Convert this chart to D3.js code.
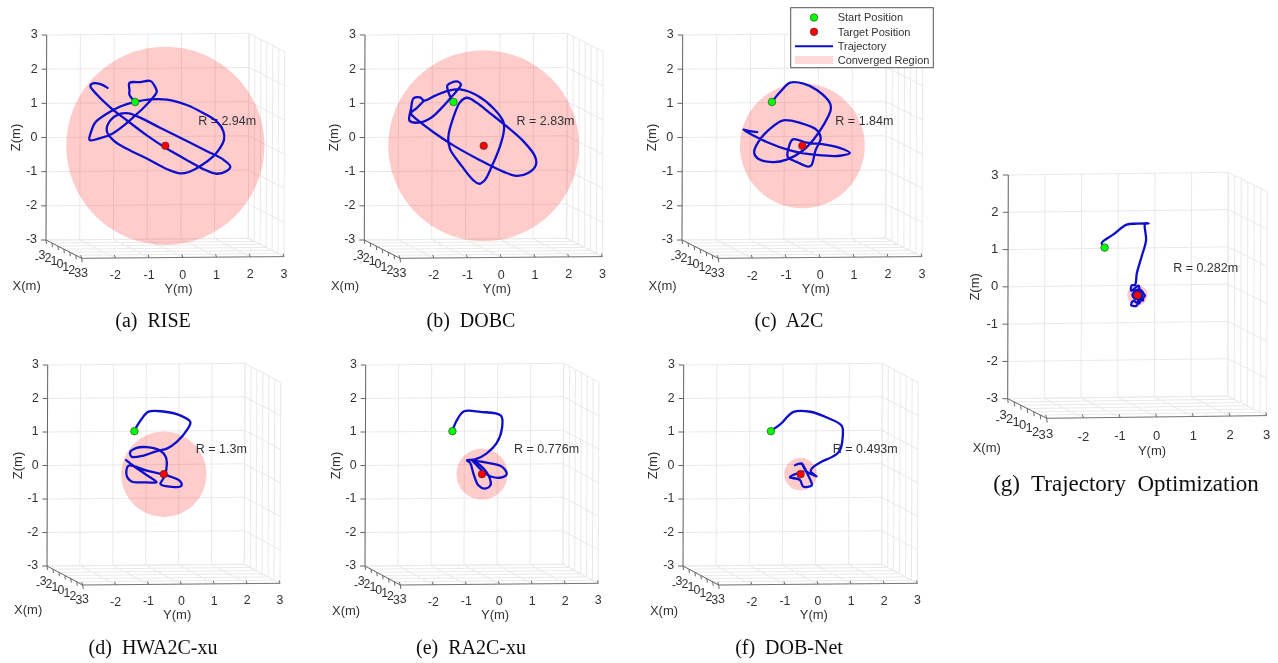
<!DOCTYPE html>
<html>
<head>
<meta charset="utf-8">
<title>Converged regions</title>
<script src="https://cdn.jsdelivr.net/npm/d3@7/dist/d3.min.js"></script>
<style>
  body { margin: 0; background: #fff; }
  svg { display: block; }
  text { font-family: "Liberation Sans", Arial, sans-serif; fill: #333; }
  .caption { font-family: "Liberation Serif", "Times New Roman", serif; fill: #111; white-space: pre; text-anchor: middle; }
</style>
</head>
<body>
<svg id="chart" width="1278" height="663"></svg>
<script>
// all traces are [y, z] in metres, target at the origin
const axisTicks = [-3, -2, -1, 0, 1, 2, 3];
const startPosition  = [-0.9, 1.29];
const targetPosition = [0, 0];

const riseTrace = [[-0.90,1.29],[-1.07,1.51],[-1.07,1.63],[-1.07,1.85],[-0.75,1.87],[-0.45,1.90],[-0.31,1.73],[-0.26,1.58],[-0.40,1.38],[-0.65,1.12],[-0.95,0.85],[-1.24,0.60],[-1.59,0.36],[-1.93,0.24],[-2.25,0.19],[-2.21,0.41],[-2.08,0.70],[-1.74,0.95],[-1.34,1.16],[-0.90,1.29],[-0.45,1.36],[0.04,1.35],[0.63,1.19],[1.12,0.95],[1.52,0.70],[1.72,0.41],[1.74,0.17],[1.62,-0.08],[1.42,-0.32],[1.03,-0.61],[0.68,-0.78],[0.43,-0.81],[0.04,-0.68],[-0.55,-0.37],[-1.14,-0.08],[-1.54,0.17],[-1.74,0.46],[-1.64,0.75],[-1.39,0.93],[-1.09,0.96],[-0.75,0.83],[-0.16,0.53],[0.53,0.19],[1.22,-0.16],[1.72,-0.42],[1.93,-0.63],[1.81,-0.76],[1.52,-0.83],[1.17,-0.71],[0.73,-0.47],[0.04,-0.08],[-0.55,0.31],[-1.14,0.75],[-1.64,1.14],[-2.03,1.51],[-2.23,1.77],[-2.13,1.85],[-1.93,1.82],[-1.72,1.71]];
const dobcTrace = [[-0.92,1.29],[-1.05,1.58],[-1.08,1.78],[-0.80,1.89],[-0.68,1.80],[-0.75,1.68],[-0.95,1.45],[-1.25,1.12],[-1.54,0.85],[-1.89,0.70],[-2.20,0.75],[-2.16,1.09],[-2.08,1.41],[-1.89,1.43],[-1.77,1.34],[-1.44,1.48],[-1.10,1.61],[-0.70,1.66],[-0.21,1.48],[0.29,1.09],[0.58,0.70],[0.60,0.46],[0.48,-0.03],[0.24,-0.61],[0.04,-1.00],[-0.13,-1.11],[-0.31,-1.00],[-0.70,-0.52],[-1.00,-0.08],[-1.05,0.26],[-0.90,0.85],[-0.70,1.29],[-0.50,1.41],[-0.21,1.26],[0.19,0.95],[0.68,0.56],[1.18,0.12],[1.52,-0.32],[1.55,-0.57],[1.32,-0.81],[0.98,-0.89],[0.58,-0.76],[-0.11,-0.42],[-0.90,0.02],[-1.49,0.41],[-1.94,0.75],[-2.16,0.97],[-1.99,1.12],[-1.77,1.34]];
const a2cTrace = [[-0.90,1.29],[-0.66,1.58],[-0.36,1.85],[0.03,1.82],[0.42,1.63],[0.81,1.24],[0.83,1.04],[0.62,0.60],[0.32,0.17],[0.03,-0.13],[-0.46,-0.40],[-0.85,-0.47],[-1.30,-0.37],[-1.42,-0.18],[-1.30,0.12],[-0.95,0.51],[-0.56,0.75],[-0.07,0.67],[0.42,0.46],[0.54,0.21],[0.39,-0.13],[0.27,-0.57],[0.18,-0.61],[-0.17,-0.47],[-0.43,-0.32],[-0.41,-0.08],[-0.28,0.19],[0.13,0.09],[0.72,0.02],[1.21,-0.11],[1.40,-0.22],[1.11,-0.30],[0.42,-0.27],[-0.36,-0.13],[-1.05,0.12],[-1.74,0.49],[-1.54,0.44],[-1.33,0.41]];
const hwa2cTrace = [[-0.91,1.29],[-0.72,1.60],[-0.47,1.87],[-0.02,1.87],[0.49,1.75],[0.80,1.55],[0.69,1.30],[0.39,0.96],[0.09,0.76],[-0.22,0.69],[-0.62,0.56],[-0.98,0.53],[-1.03,0.66],[-0.83,0.79],[-0.52,0.81],[-0.12,0.71],[0.06,0.51],[0.07,0.11],[-0.02,-0.14],[-0.10,-0.29],[0.39,-0.39],[0.54,-0.34],[0.49,-0.21],[0.09,-0.04],[-0.52,0.11],[-1.08,0.26],[-1.13,-0.04],[-0.98,-0.21],[-0.52,-0.24],[-0.22,-0.24],[-0.57,0.01],[-0.93,0.26],[-1.15,0.43]];
const ra2cTrace = [[-0.90,1.30],[-0.77,1.61],[-0.55,1.88],[-0.06,1.86],[0.57,1.74],[0.60,1.36],[0.44,0.92],[0.14,0.62],[-0.21,0.44],[-0.46,0.42],[-0.36,0.34],[-0.26,0.02],[-0.11,-0.33],[0.09,-0.43],[0.26,-0.33],[0.19,-0.03],[-0.06,0.27],[-0.26,0.40],[0.14,0.34],[0.60,0.22],[0.75,0.00],[0.60,-0.10],[0.29,-0.08],[0.04,0.07],[-0.21,0.32],[-0.31,0.42]];
const dobNetTrace = [[-0.90,1.30],[-0.62,1.49],[-0.22,1.86],[0.29,1.86],[0.84,1.66],[1.24,1.43],[1.27,1.11],[1.17,0.67],[0.94,0.50],[0.64,0.37],[0.34,0.17],[0.31,0.07],[0.49,-0.07],[0.39,-0.03],[0.19,0.07],[0.13,0.17],[0.03,0.32],[-0.17,0.27],[0.02,0.31],[0.12,0.16],[0.27,-0.12],[0.34,-0.34],[0.08,-0.37],[-0.02,-0.17],[-0.32,-0.09],[-0.17,0.00],[0.08,0.07]];
const trajOptTrace = [[-0.90,1.30],[-0.98,1.41],[-0.66,1.64],[-0.30,1.90],[-0.02,1.92],[0.30,1.93],[0.20,1.91],[0.23,1.48],[0.11,1.04],[-0.02,0.59],[-0.07,0.28],[-0.16,0.27],[-0.17,0.12],[-0.04,0.22],[0.03,0.26],[0.07,0.12],[0.20,0.00],[0.14,-0.08],[0.00,0.12],[-0.14,0.02],[-0.05,-0.10],[0.10,-0.02],[0.15,-0.14],[0.03,-0.12],[-0.02,-0.28],[-0.17,-0.26],[-0.12,-0.15],[0.04,-0.22],[0.08,-0.08],[-0.10,0.08],[0.05,0.16],[0.16,0.03],[-0.03,-0.05]];

const captions = ['(a)  RISE', '(b)  DOBC', '(c)  A2C', '(d)  HWA2C-xu', '(e)  RA2C-xu', '(f)  DOB-Net', '(g)  Trajectory  Optimization'];
const radii    = [2.94, 2.83, 1.84, 1.3, 0.776, 0.493, 0.282];
const traces   = [riseTrace, dobcTrace, a2cTrace, hwa2cTrace, ra2cTrace, dobNetTrace, trajOptTrace];

const legendLabels = ['Start Position', 'Target Position', 'Trajectory', 'Converged Region'];

// cube corners on the page: b = back bottom left, a = back top left, c = back bottom right, e = front bottom left
const layout = [
  {a: [46.7, 35],    b: [46, 240],     c: [248.3, 238.3], e: [81.7, 258.3],  capX: 153,  capY: 327},
  {a: [365, 35],     b: [364.3, 240],  c: [566.7, 238.3], e: [400, 258.3],   capX: 471,  capY: 327},
  {a: [682.7, 35],   b: [682, 240],    c: [885.7, 238.3], e: [718.3, 258.3], capX: 789,  capY: 327},
  {a: [47.7, 365],   b: [47, 566],     c: [244.3, 564.3], e: [82.7, 585],    capX: 153,  capY: 654},
  {a: [365.7, 365],  b: [365, 566],    c: [563, 564.3],   e: [400.3, 585],   capX: 471,  capY: 654},
  {a: [683.7, 365],  b: [683, 566],    c: [881.7, 564.3], e: [718.7, 585],   capX: 789,  capY: 654},
  {a: [1008.3, 175], b: [1007.7, 398.7], c: [1227.7, 396], e: [1046.7, 418.3], capX: 1126, capY: 491},
];

const svg = d3.select('#chart');
const defs = svg.append('defs');
defs.append('filter').attr('id', 'soft').append('feGaussianBlur').attr('stdDeviation', 0.4);

const lineGen = d3.line().curve(d3.curveCatmullRom.alpha(0.5));
const gridColor = '#e9e9e9';

function drawPanel(i) {
  const L = layout[i];
  const sub = (p, q) => [p[0] - q[0], p[1] - q[1]];
  // one scale per data axis, each gives a page offset from corner b
  const xVec = d3.scaleLinear().domain([-3, 3]).range([[0, 0], sub(L.e, L.b)]);
  const yVec = d3.scaleLinear().domain([-3, 3]).range([[0, 0], sub(L.c, L.b)]);
  const zVec = d3.scaleLinear().domain([-3, 3]).range([[0, 0], sub(L.a, L.b)]);
  const project = (x, y, z) => {
    const ox = xVec(x), oy = yVec(y), oz = zVec(z);
    return [L.b[0] + ox[0] + oy[0] + oz[0], L.b[1] + ox[1] + oy[1] + oz[1]];
  };
  const k = (L.c[0] - L.b[0]) / 202.3;
  const unit = (L.c[0] - L.b[0]) / 6;

  const g = svg.append('g').attr('filter', 'url(#soft)');
  const seg = (sel, p, q, color, w) => sel.append('line')
    .attr('x1', p[0]).attr('y1', p[1]).attr('x2', q[0]).attr('y2', q[1])
    .attr('stroke', color).attr('stroke-width', w || 1);

  const grid = g.append('g');
  axisTicks.forEach(t => {
    // back wall
    seg(grid, project(-3, t, -3), project(-3, t, 3), gridColor);
    seg(grid, project(-3, -3, t), project(-3, 3, t), gridColor);
    // right wall
    seg(grid, project(t, 3, -3), project(t, 3, 3), gridColor);
    seg(grid, project(-3, 3, t), project(3, 3, t), gridColor);
    // floor
    seg(grid, project(-3, t, -3), project(3, t, -3), gridColor);
    seg(grid, project(t, -3, -3), project(t, 3, -3), gridColor);
  });

  const axes = g.append('g');
  seg(axes, project(-3, -3, -3), project(-3, -3, 3), '#666');
  seg(axes, project(-3, -3, -3), project(3, -3, -3), '#666');
  seg(axes, project(3, -3, -3), project(3, 3, -3), '#777');
  axisTicks.forEach(t => {
    const pz = project(-3, -3, t);
    seg(axes, pz, [pz[0] - 5 * k, pz[1]], '#666');
    const py = project(3, t, -3);
    seg(axes, py, [py[0] - 1, py[1] - 3 * k], '#666');
    const px = project(t, -3, -3);
    seg(axes, px, [px[0] + 0.5, px[1] + 4 * k], '#666');
  });

  const labels = g.append('g').attr('font-size', 12.5 * Math.sqrt(k));
  axisTicks.forEach(t => {
    const pz = project(-3, -3, t);
    labels.append('text').attr('x', pz[0] - 9 * k).attr('y', pz[1] - 1).attr('dy', '0.35em')
      .attr('text-anchor', 'end').text(t);
    if (t > -3) {
      const py = project(3, t, -3);
      labels.append('text').attr('x', py[0]).attr('y', py[1] + 17 * k).attr('dy', '0.35em')
        .attr('text-anchor', 'middle').text(t);
    }
  });

  // x tick labels run together, the minus signs are lost under the digits,
  // and the y = -3 label closes the run
  const xGlyphs = [];
  axisTicks.forEach(t => {
    const p = project(t, -3, -3);
    if (t === -3) xGlyphs.push({ch: '-', x: p[0] - 11.2 * k, y: p[1] + 19 * k});
    xGlyphs.push({ch: String(Math.abs(t)), x: p[0] - 7.5 * k, y: p[1] + 19 * k});
  });
  const corner = project(3, -3, -3);
  xGlyphs.push({ch: '3', x: corner[0] - 0.6 * k, y: corner[1] + 18.5 * k});
  labels.append('text')
    .attr('x', xGlyphs.map(d => d.x.toFixed(1)).join(' '))
    .attr('y', xGlyphs.map(d => d.y.toFixed(1)).join(' '))
    .attr('dy', '0.35em')
    .text(xGlyphs.map(d => d.ch).join(''));

  const midBack = project(-3, -3, 0);
  const midFront = project(3, 0, -3);
  labels.append('text').attr('font-size', 13)
    .attr('transform', `translate(${midBack[0] - 31 * k},${midBack[1]}) rotate(-90)`)
    .attr('dy', '0.35em').attr('text-anchor', 'middle').text('Z(m)');
  labels.append('text').attr('font-size', 13)
    .attr('x', midFront[0] - 4.3 * k).attr('y', midFront[1] + 31 * k).attr('dy', '0.35em')
    .attr('text-anchor', 'middle').text('Y(m)');
  labels.append('text').attr('font-size', 13)
    .attr('x', L.b[0] - 19.3 * k).attr('y', L.b[1] + 45 * k).attr('dy', '0.35em')
    .attr('text-anchor', 'middle').text('X(m)');

  // converged region, trace and markers all sit on the plane through the target
  const center = project(0, targetPosition[0], targetPosition[1]);
  g.append('circle').attr('cx', center[0]).attr('cy', center[1])
    .attr('r', radii[i] * unit).attr('fill', '#f00').attr('fill-opacity', 0.2);

  const rLabel = project(0, 0.97, 0.74);
  g.append('text').attr('x', rLabel[0]).attr('y', rLabel[1]).attr('dy', '0.35em')
    .attr('font-size', 12.5).text(`R = ${radii[i]}m`);

  g.append('path')
    .attr('d', lineGen(traces[i].map(d => project(0, d[0], d[1]))))
    .attr('fill', 'none').attr('stroke', '#0d0dcc').attr('stroke-width', 2.3)
    .attr('stroke-linejoin', 'round').attr('stroke-linecap', 'round');

  const marker = (pos, color) => {
    const p = project(0, pos[0], pos[1]);
    g.append('circle').attr('cx', p[0]).attr('cy', p[1]).attr('r', 3.8)
      .attr('fill', color).attr('stroke', '#333').attr('stroke-width', 0.6);
  };
  marker(startPosition, '#0f0');
  marker(targetPosition, '#f00');

  svg.append('text').attr('class', 'caption').attr('x', L.capX).attr('y', L.capY)
    .attr('font-size', i === 6 ? 23 : 20).attr('filter', 'url(#soft)').text(captions[i]);
}

traces.forEach((t, i) => drawPanel(i));

// legend box
const legendRows = d3.scalePoint().domain(legendLabels).range([17.5, 60.5]);
defs.append('clipPath').attr('id', 'legendClip').append('rect')
  .attr('x', 791).attr('y', 8).attr('width', 142).attr('height', 59);
const legend = svg.append('g').attr('filter', 'url(#soft)');
legend.append('rect').attr('x', 790.7).attr('y', 7.7).attr('width', 142.6).attr('height', 60)
  .attr('fill', '#fff').attr('stroke', '#555');
legend.append('circle').attr('cx', 814).attr('cy', legendRows(legendLabels[0])).attr('r', 3.8)
  .attr('fill', '#0f0').attr('stroke', '#333').attr('stroke-width', 0.6);
legend.append('circle').attr('cx', 814).attr('cy', legendRows(legendLabels[1])).attr('r', 3.8)
  .attr('fill', '#f00').attr('stroke', '#333').attr('stroke-width', 0.6);
legend.append('line').attr('x1', 795).attr('x2', 833)
  .attr('y1', legendRows(legendLabels[2])).attr('y2', legendRows(legendLabels[2]))
  .attr('stroke', '#0d0dcc').attr('stroke-width', 2);
legend.append('rect').attr('x', 795).attr('width', 38).attr('y', 56).attr('height', 8)
  .attr('fill', '#f00').attr('fill-opacity', 0.15);
legend.append('g').attr('clip-path', 'url(#legendClip)').selectAll('text').data(legendLabels).join('text')
  .attr('x', 837.7).attr('y', d => legendRows(d)).attr('dy', '0.35em').attr('font-size', 11).text(d => d);
</script>
</body>
</html>
